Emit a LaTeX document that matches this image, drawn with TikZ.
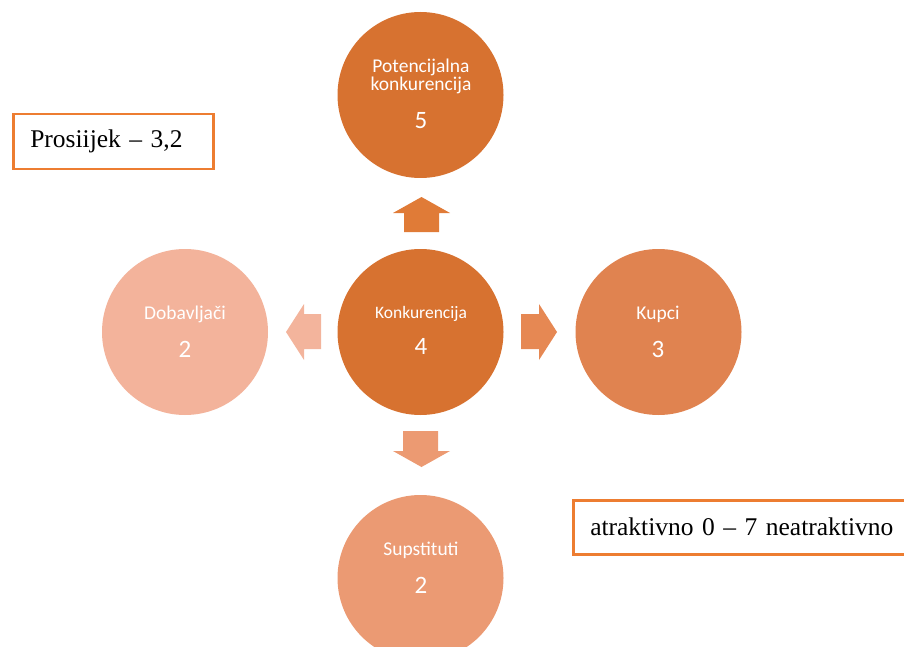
\documentclass[tikz,border=0pt]{standalone}
\usepackage{fontspec}
\setmainfont{Liberation Serif}
\newfontfamily\calfont{Carlito}
\begin{document}
\begin{tikzpicture}[x=1pt,y=-1pt]
\definecolor{cDark}{HTML}{D77230}
\definecolor{cRight}{HTML}{E08350}
\definecolor{cBottom}{HTML}{EB9A73}
\definecolor{cLeft}{HTML}{F3B39B}
\definecolor{aTop}{HTML}{E07B37}
\definecolor{aRight}{HTML}{E68853}
\definecolor{aBottom}{HTML}{EC9A72}
\definecolor{aLeft}{HTML}{F3B49C}
\definecolor{cBox}{HTML}{ED7D31}
\tikzset{
  circ/.style={circle, minimum size=166pt, inner sep=0pt, draw=none},
  lbl/.style={font=\calfont\fontsize{19.5}{18}\selectfont, text=white, inner sep=0pt, align=center},
  lblsmall/.style={font=\calfont\fontsize{17.5}{18}\selectfont, text=white, inner sep=0pt},
  num/.style={font=\calfont\fontsize{25}{26}\selectfont, text=white, inner sep=0pt},
  box/.style={draw=cBox, line width=2.5pt, font=\fontsize{25.5}{30}\selectfont, inner xsep=17pt, inner ysep=0pt, align=left, anchor=north west}
}
\useasboundingbox (0,0) rectangle (904,647);
% circles
\node[circ, fill=cDark] (kon) at (420.5,332) {};
\node[circ, fill=cDark] (pot) at (420.5,95) {};
\node[circ, fill=cLeft] (dob) at (185,332) {};
\node[circ, fill=cRight] (kup) at (658.5,332) {};
\node[circ, fill=cBottom] (sup) at (420.5,578) {};
% texts
\node[lblsmall] (konT) at (421,314) {Konkurencija};
\node[num] (konN) at (421,346) {4};
\node[lbl] (potT) at (421,76) {Potencijalna\\konkurencija};
\node[num] (potN) at (421,121) {5};
\node[lbl] (dobT) at (185,314) {Dobavljači};
\node[num] (dobN) at (185,349) {2};
\node[lbl] (kupT) at (658,314) {Kupci};
\node[num] (kupN) at (658,349) {3};
\node[lbl] (supT) at (421,550) {Supstituti};
\node[num] (supN) at (421,585) {2};
% block arrows
\fill[aTop] (404,232) -- (404,213) -- (393,213) -- (421.5,197) -- (450,213) -- (439,213) -- (439,232) -- cycle;
\fill[aLeft] (321,314) -- (304,314) -- (304,304) -- (286,332) -- (304,360) -- (304,349) -- (321,349) -- cycle;
\fill[aRight] (521,314) -- (539,314) -- (539,304) -- (557,332) -- (539,360) -- (539,349) -- (521,349) -- cycle;
\fill[aBottom] (403,431) -- (403,451) -- (393,451) -- (421.5,467) -- (450,451) -- (438,451) -- (438,431) -- cycle;
% text boxes
\node[box, text width=166pt, minimum height=55pt] (avg) at (12,113) {Prosiijek – 3,2};
\node[box, text width=340pt, minimum height=54pt] (scale) at (572,499) {atraktivno 0 – 7 neatraktivno};
\end{tikzpicture}
\end{document}
